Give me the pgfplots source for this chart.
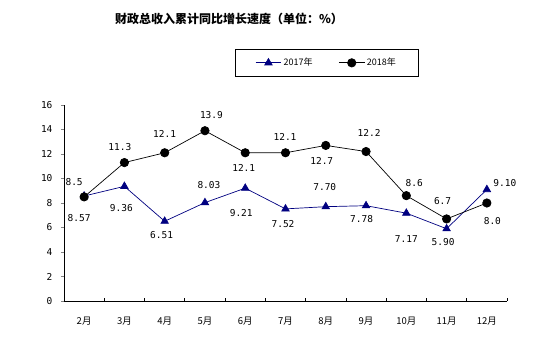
\documentclass[border=0pt]{standalone}
\usepackage{fontspec}
\setmainfont{Noto Sans CJK SC}
\newfontfamily\numfont{DejaVu Sans Mono}
\usepackage{pgfplots}
\pgfplotsset{compat=1.18}
\usepackage{pgfplotstable}
\definecolor{navyA}{RGB}{0,0,128}

\pgfplotstableread{
x y lab dx dy
0 8.57 8.57 -5 -22
1 9.36 9.36 -3 -22
2 6.51 6.51 -3 -14
3 8.03 8.03 4 17.5
4 9.21 9.21 -4 -25
5 7.52 7.52 -2.5 -15
6 7.70 7.70 -1 19.5
7 7.78 7.78 -4.5 -13.5
8 7.17 7.17 0 -26
9 5.90 5.90 -3.5 -13
10 9.10 9.10 18 6
}\dataA

\pgfplotstableread{
x y lab dx dy
0 8.5 8.5 -10 15
1 11.3 11.3 -4.5 16
2 12.1 12.1 0 19
3 13.9 13.9 6.5 16
4 12.1 12.1 -1.5 -15.5
5 12.1 12.1 -0.5 15.5
6 12.7 12.7 -4 -16
7 12.2 12.2 3 19
8 8.6 8.6 8 13
9 6.7 6.7 -4 18
10 8.0 8.0 5.5 -18
}\dataB

\begin{document}
\begin{tikzpicture}
\begin{axis}[
  scale only axis,
  width=443pt, height=196pt,
  xmin=-0.5, xmax=10.5,
  ymin=0, ymax=16,
  clip=false,
  axis x line=bottom, axis y line=left,
  axis line style={-, line width=0.8pt},
  every outer x axis line/.append style={-},
  every outer y axis line/.append style={-},
  tick align=outside,
  major tick length=3pt,
  minor tick length=3pt,
  xtick={0,...,10},
  xticklabels={2月,3月,4月,5月,6月,7月,8月,9月,10月,11月,12月},
  major x tick style={draw=none},
  minor xtick={-0.5,0.5,...,10.5},
  minor x tick style={draw=black, line width=0.8pt, yshift=3pt},
  ytick={0,2,...,16},
  ytick style={line width=0.8pt},
  /pgf/number format/assume math mode=true,
  yticklabel style={font=\numfont\fontsize{9.5}{10}\selectfont, xshift=-5pt},
  xticklabel style={font=\fontsize{9.5}{10}\selectfont, yshift=-9pt},
  title={财政总收入累计同比增长速度（单位：\%）},
  title style={at={(0.3725,1.408)}, anchor=center, font=\bfseries\fontsize{12}{14}\selectfont},
  legend columns=2,
  legend style={at={(0.386,1.2857)}, anchor=north west, draw=black, line width=0.6pt,
    font=\fontsize{9}{10}\selectfont, inner xsep=20pt, inner ysep=7pt,
    /tikz/every even column/.append style={column sep=24pt}},
  legend image code/.code={\draw[mark repeat=2,mark phase=2] plot coordinates {(0cm,0cm)(0.45cm,0cm)(0.9cm,0cm)};},
  point meta=explicit symbolic,
  visualization depends on={\thisrow{dx}\as\lblx},
  visualization depends on={\thisrow{dy}\as\lbly},
  nodes near coords,
  every node near coord/.append style={anchor=center, xshift=\lblx pt, yshift=\lbly pt, text=black, font=\numfont\fontsize{9.5}{10}\selectfont},
]
\addplot[color=navyA, line width=0.7pt, mark=triangle*, mark size=4.3pt, mark options={fill=navyA, draw=navyA}]
  table[x=x, y=y, meta=lab] {\dataA};
\addlegendentry{2017年}
\addplot[color=black, line width=0.7pt, mark=*, mark size=4.2pt, mark options={fill=black}]
  table[x=x, y=y, meta=lab] {\dataB};
\addlegendentry{2018年}
\path ([xshift=-64pt,yshift=-62pt]rel axis cs:0,0) rectangle ([xshift=39pt,yshift=105pt]rel axis cs:1,1);
\end{axis}
\end{tikzpicture}
\end{document}
